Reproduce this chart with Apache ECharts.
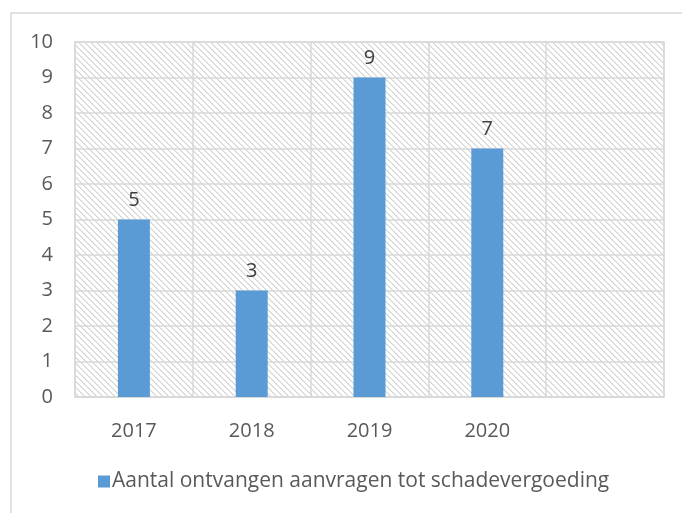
<!DOCTYPE html>
<html><head><meta charset="utf-8">
<script src="https://cdn.jsdelivr.net/npm/echarts@6/dist/echarts.min.js"></script>
<style>html,body{margin:0;padding:0;background:#fff}#c{width:682px;height:513px}</style>
</head><body><div id="c"></div>
<script>
var categories = ['2017', '2018', '2019', '2020', ''];
var values = [5, 3, 9, 7, null];
var seriesName = 'Aantal ontvangen aanvragen tot schadevergoeding';

var pc = document.createElement('canvas');
pc.width = 6; pc.height = 6;
var ctx = pc.getContext('2d');
ctx.fillStyle = '#fff'; ctx.fillRect(0,0,6,6);
for (var i = 0; i < 6; i++) {
  ctx.fillStyle = '#d4d4d4'; ctx.fillRect(i, i, 1, 1);
  ctx.fillStyle = '#e8e8e8'; ctx.fillRect((i+1)%6, i, 1, 1);
}

var font = 'Open Sans';
var chart = echarts.init(document.getElementById('c'));
chart.setOption({
  animation: false,
  graphic: [{type:'rect', shape:{x:11, y:13, width:700, height:520}, style:{fill:'none', stroke:'#d9d9d9', lineWidth:1.5}, z:-10}],
  grid: {left:75, right:18, top:42, bottom:116, show:true, backgroundColor:{image:pc, repeat:'repeat'}, borderColor:'#d9d9d9', borderWidth:1.5},
  legend: {top:471, left:98, padding:0, itemWidth:12, itemHeight:12, itemGap:6, icon:'rect',
    textStyle:{fontFamily:font, fontSize:21, color:'#595959', padding:[0,0,0,-3]}},
  xAxis: {type:'category', data:categories, boundaryGap:true,
    axisLine:{show:true, lineStyle:{color:'#d9d9d9', width:1.5}}, axisTick:{show:false},
    splitLine:{show:true, lineStyle:{color:'#d9d9d9', width:1.5}},
    axisLabel:{fontFamily:font, fontSize:20, color:'#595959', margin:24}},
  yAxis: {type:'value', min:0, max:10, interval:1,
    axisLine:{show:false}, axisTick:{show:false},
    splitLine:{lineStyle:{color:'#d9d9d9', width:1.5}},
    axisLabel:{fontFamily:font, fontSize:20, color:'#595959', margin:22}},
  series: [{name:seriesName, type:'bar', data:values, barWidth:32,
    itemStyle:{color:'#5b9bd5'},
    label:{show:true, position:'top', distance:9, fontFamily:font, fontSize:20, color:'#404040'}}]
});
</script></body></html>
